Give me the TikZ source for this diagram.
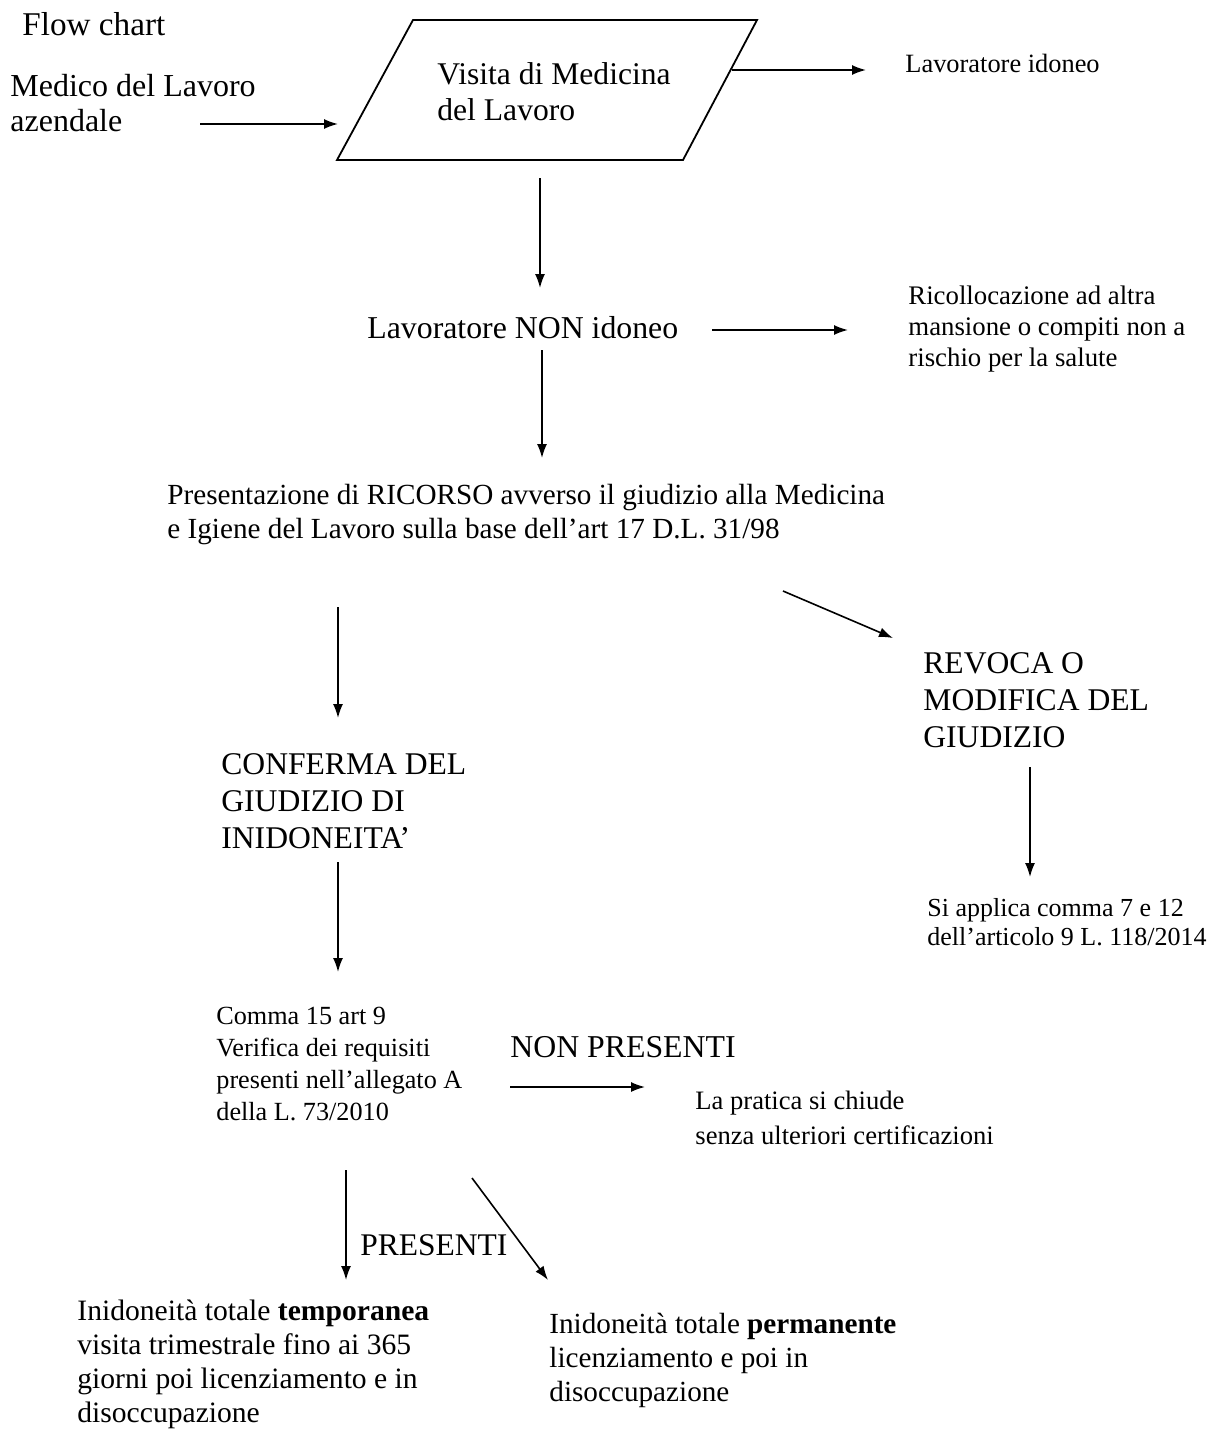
\documentclass[tikz,border=0pt]{standalone}
\usepackage{fontspec}
\setmainfont{Liberation Serif}
\usetikzlibrary{arrows.meta}
\begin{document}
\begin{tikzpicture}[x=0.5pt,y=-0.5pt,
  txt/.style={anchor=west,inner sep=0pt,align=left},
  arr/.style={-{Latex[length=7pt,width=5pt]},line width=0.8pt},
  box/.style={line width=0.9pt}]
\useasboundingbox (0,0) rectangle (1218,1430);
% texts
\node[txt,font=\fontsize{16.6}{19}\selectfont] (flow) at (22,24) {Flow chart};
\node[txt,font=\fontsize{16}{17.5}\selectfont] (medico) at (10,103.5) {Medico del Lavoro\\azendale};
\node[txt,font=\fontsize{15.8}{18}\selectfont] (visita) at (437,92) {Visita di Medicina\\del Lavoro};
\node[txt,font=\fontsize{13.2}{15}\selectfont] (idoneo) at (905,63) {Lavoratore idoneo};
\node[txt,font=\fontsize{15.9}{18}\selectfont] (nonidoneo) at (367,328) {Lavoratore NON idoneo};
\node[txt,font=\fontsize{13.4}{15.5}\selectfont] (ricoll) at (908,329) {Ricollocazione ad altra\\mansione o compiti non a\\rischio per la salute};
\node[txt,font=\fontsize{14.6}{17}\selectfont] (ricorso) at (167,515) {Presentazione di RICORSO avverso il giudizio alla Medicina\\e Igiene del Lavoro sulla base dell’art 17 D.L. 31/98};
\node[txt,font=\fontsize{15.8}{18.5}\selectfont] (revoca) at (923,700) {REVOCA O\\MODIFICA DEL\\GIUDIZIO};
\node[txt,font=\fontsize{15.8}{18.5}\selectfont] (conferma) at (221,801) {CONFERMA DEL\\GIUDIZIO DI\\INIDONEITA’};
\node[txt,font=\fontsize{13}{14.5}\selectfont] (applica) at (927,922.5) {Si applica comma 7 e 12\\dell’articolo 9 L. 118/2014};
\node[txt,font=\fontsize{13.1}{16}\selectfont] (comma) at (216,1064) {Comma 15 art 9\\Verifica dei requisiti\\presenti nell’allegato A\\della L. 73/2010};
\node[txt,font=\fontsize{15.9}{18}\selectfont] (nonpres) at (510,1047) {NON PRESENTI};
\node[txt,font=\fontsize{13.3}{17.5}\selectfont] (pratica) at (695,1117.5) {La pratica si chiude\\senza ulteriori certificazioni};
\node[txt,font=\fontsize{15.75}{18}\selectfont] (presenti) at (360,1245) {PRESENTI};
\node[txt,font=\fontsize{14.8}{17}\selectfont] (temp) at (77,1364) {Inidoneità totale \textbf{temporanea}\\visita trimestrale fino ai 365\\giorni poi licenziamento e in\\disoccupazione};
\node[txt,font=\fontsize{14.6}{17}\selectfont] (perm) at (549,1360.5) {Inidoneità totale \textbf{permanente}\\licenziamento e poi in\\disoccupazione};
% parallelogram
\coordinate (p1) at (337,160);
\coordinate (p2) at (413,20);
\coordinate (p3) at (757,20);
\coordinate (p4) at (683,160);
\draw[box] (p1) -- (p2) -- (p3) -- (p4) -- cycle;
% arrow end points
\coordinate (a1s) at (200,124);  \coordinate (a1e) at (338,124);
\coordinate (a2s) at (732,70);   \coordinate (a2e) at (866,70);
\coordinate (a3s) at (540,178);  \coordinate (a3e) at (540,288);
\coordinate (a4s) at (712,330);  \coordinate (a4e) at (848,330);
\coordinate (a5s) at (542,350);  \coordinate (a5e) at (542,458);
\coordinate (a6s) at (338,607);  \coordinate (a6e) at (338,718);
\coordinate (a7s) at (783,591);  \coordinate (a7e) at (893,638);
\coordinate (a8s) at (338,862);  \coordinate (a8e) at (338,972);
\coordinate (a9s) at (1030,767); \coordinate (a9e) at (1030,877);
\coordinate (a10s) at (510,1087); \coordinate (a10e) at (645,1087);
\coordinate (a11s) at (346,1170); \coordinate (a11e) at (346,1280);
\coordinate (a12s) at (472,1178); \coordinate (a12e) at (548,1280);
\foreach \i in {1,...,12} {\draw[arr] (a\i s) -- (a\i e);}
\end{tikzpicture}
\end{document}
